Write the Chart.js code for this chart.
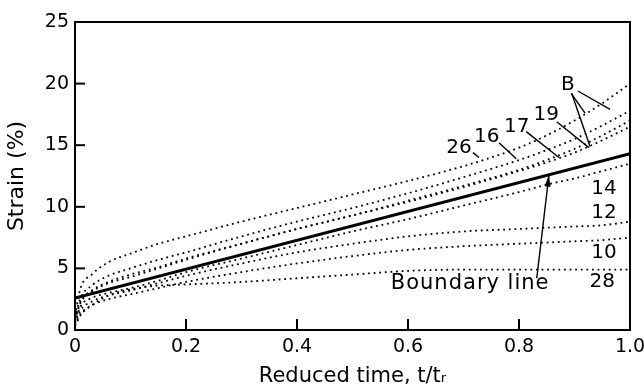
<!DOCTYPE html>
<html>
<head>
<meta charset="utf-8">
<script src="https://cdn.jsdelivr.net/npm/chart.js@4"></script>
<style>
  html, body { margin: 0; padding: 0; background: #fff; }
  #wrap { width: 644px; height: 389px; }
</style>
</head>
<body>
<div id="wrap"><canvas id="creep"></canvas></div>
<script>
// reduced time t/tr sample points (shared by all creep curves)
const tVals = [0, 0.01, 0.03, 0.06, 0.1, 0.15, 0.2, 0.3, 0.4, 0.5, 0.6, 0.7, 0.8, 0.85, 0.9, 0.95, 1.0];

// strain (%) for each specimen
const strain26 = [1.2, 3.4, 4.5, 5.5, 6.2, 7.0, 7.6, 8.8, 9.9, 11.0, 12.1, 13.3, 14.8, 15.8, 17.0, 18.4, 20.0];
const strain16 = [1.0, 2.6, 3.6, 4.4, 5.0, 5.7, 6.3, 7.6, 8.8, 9.9, 11.1, 12.4, 13.8, 14.6, 15.5, 16.6, 17.8];
const strain17 = [0.8, 2.2, 3.1, 3.8, 4.3, 5.0, 5.7, 7.0, 8.2, 9.3, 10.5, 11.7, 13.0, 13.8, 14.7, 15.8, 17.0];
const strain19 = [0.9, 2.3, 3.2, 3.9, 4.5, 5.1, 5.8, 7.0, 8.2, 9.3, 10.4, 11.6, 12.9, 13.6, 14.4, 15.4, 16.5];
const strain14 = [0.6, 1.9, 2.6, 3.0, 3.4, 4.0, 4.7, 5.8, 6.9, 8.0, 9.0, 10.1, 11.2, 11.8, 12.3, 12.9, 13.5];
const strain12 = [0.5, 1.6, 2.3, 2.8, 3.2, 3.8, 4.4, 5.4, 6.3, 7.0, 7.6, 8.0, 8.2, 8.3, 8.4, 8.5, 8.8];
const strain10 = [0.4, 1.3, 2.0, 2.5, 2.9, 3.4, 3.9, 4.7, 5.4, 6.0, 6.5, 6.8, 7.0, 7.1, 7.2, 7.3, 7.5];
const strain28 = [0.3, 1.2, 2.0, 2.8, 3.3, 3.6, 3.7, 3.9, 4.2, 4.5, 4.8, 4.9, 4.9, 4.9, 4.9, 4.9, 4.9];

// boundary line end points
const boundaryT = [0, 1.0];
const boundaryStrain = [2.6, 14.3];

const xTicks = [0, 0.2, 0.4, 0.6, 0.8, 1.0];
const yTicks = [0, 5, 10, 15, 20, 25];

const FONT = 'DejaVu Sans';

function pts(xs, ys) {
    return xs.map((x, i) => ({ x: x, y: ys[i] }));
}

function dotted(label, ys) {
    return {
        label: label,
        data: pts(tVals, ys),
        borderColor: '#000',
        borderWidth: 1.8,
        borderDash: [1.8, 3.8],
        pointRadius: 0,
        cubicInterpolationMode: 'monotone',
        fill: false
    };
}

// text notes and leader lines, placed in data coordinates
const notes = [
    { text: '26', x: 0.692, y: 14.8 },
    { text: '16', x: 0.742, y: 15.7 },
    { text: '17', x: 0.796, y: 16.5 },
    { text: '19', x: 0.849, y: 17.5 },
    { text: 'B', x: 0.888, y: 19.9 },
    { text: '14', x: 0.953, y: 11.5 },
    { text: '12', x: 0.953, y: 9.5 },
    { text: '10', x: 0.953, y: 6.3 },
    { text: '28', x: 0.950, y: 3.9 },
    { text: 'Boundary line', x: 0.712, y: 3.8, wide: true }
];
const leaders = [
    [0.717, 14.4, 0.728, 14.0],
    [0.764, 15.2, 0.795, 13.9],
    [0.813, 16.1, 0.872, 14.0],
    [0.868, 16.9, 0.926, 14.8],
    [0.906, 19.4, 0.964, 17.9],
    [0.894, 19.2, 0.919, 17.6],
    [0.895, 19.2, 0.928, 14.9]
];
const arrow = [0.832, 4.2, 0.854, 12.6];

const extras = {
    id: 'extras',
    afterDraw(chart) {
        const { ctx, chartArea: a, scales: { x, y } } = chart;
        ctx.save();
        ctx.strokeStyle = '#000';
        ctx.fillStyle = '#000';
        ctx.lineWidth = 2;
        ctx.strokeRect(a.left, a.top, a.right - a.left, a.bottom - a.top);

        // inward tick marks
        yTicks.forEach(v => {
            if (v <= 0 || v >= 25) return;
            const py = y.getPixelForValue(v);
            ctx.beginPath();
            ctx.moveTo(a.left, py);
            ctx.lineTo(a.left + 10, py);
            ctx.stroke();
        });
        xTicks.forEach(v => {
            if (v <= 0 || v >= 1) return;
            const px = x.getPixelForValue(v);
            ctx.beginPath();
            ctx.moveTo(px, a.bottom);
            ctx.lineTo(px, a.bottom - 11);
            ctx.stroke();
        });

        ctx.lineWidth = 1.4;
        leaders.forEach(l => {
            ctx.beginPath();
            ctx.moveTo(x.getPixelForValue(l[0]), y.getPixelForValue(l[1]));
            ctx.lineTo(x.getPixelForValue(l[2]), y.getPixelForValue(l[3]));
            ctx.stroke();
        });

        // arrow to the boundary line
        const x1 = x.getPixelForValue(arrow[0]), y1 = y.getPixelForValue(arrow[1]);
        const x2 = x.getPixelForValue(arrow[2]), y2 = y.getPixelForValue(arrow[3]);
        ctx.beginPath();
        ctx.moveTo(x1, y1);
        ctx.lineTo(x2, y2);
        ctx.stroke();
        const ang = Math.atan2(y2 - y1, x2 - x1);
        ctx.beginPath();
        ctx.moveTo(x2, y2);
        ctx.lineTo(x2 - 12 * Math.cos(ang) + 3 * Math.sin(ang), y2 - 12 * Math.sin(ang) - 3 * Math.cos(ang));
        ctx.lineTo(x2 - 12 * Math.cos(ang) - 3 * Math.sin(ang), y2 - 12 * Math.sin(ang) + 3 * Math.cos(ang));
        ctx.closePath();
        ctx.fill();

        ctx.textAlign = 'center';
        ctx.textBaseline = 'middle';
        notes.forEach(n => {
            ctx.font = (n.wide ? '21px' : '20px') + ' "' + FONT + '"';
            ctx.letterSpacing = n.wide ? '1px' : '0px';
            ctx.fillText(n.text, x.getPixelForValue(n.x), y.getPixelForValue(n.y));
        });
        ctx.restore();
    }
};

new Chart(document.getElementById('creep'), {
    type: 'line',
    data: {
        datasets: [
            dotted('26', strain26),
            dotted('16', strain16),
            dotted('17', strain17),
            dotted('19', strain19),
            dotted('14', strain14),
            dotted('12', strain12),
            dotted('10', strain10),
            dotted('28', strain28),
            {
                label: 'Boundary line',
                data: pts(boundaryT, boundaryStrain),
                borderColor: '#000',
                borderWidth: 3,
                pointRadius: 0,
                fill: false
            }
        ]
    },
    options: {
        responsive: true,
        maintainAspectRatio: false,
        animation: false,
        events: [],
        layout: { padding: { left: 0, top: 22, right: 14, bottom: 0 } },
        plugins: {
            legend: { display: false },
            tooltip: { enabled: false }
        },
        scales: {
            x: {
                type: 'linear',
                min: 0,
                max: 1,
                afterFit: s => { s.height = 59; s.paddingLeft = 0; s.paddingRight = 0; },
                afterBuildTicks: s => { s.ticks = xTicks.map(v => ({ value: v })); },
                grid: { display: false, drawTicks: false },
                border: { display: true, color: '#000', width: 2 },
                ticks: {
                    color: '#000',
                    padding: 6,
                    maxRotation: 0,
                    font: { family: FONT, size: 19 },
                    callback: v => (v === 0 ? '0' : v.toFixed(1))
                },
                title: {
                    display: true,
                    text: 'Reduced time, t/tᵣ',
                    color: '#000',
                    padding: { top: 0, bottom: 0 },
                    font: { family: FONT, size: 21 }
                }
            },
            y: {
                min: 0,
                max: 25,
                afterFit: s => { s.width = 75; s.paddingTop = 0; s.paddingBottom = 0; },
                afterBuildTicks: s => { s.ticks = yTicks.map(v => ({ value: v })); },
                grid: { display: false, drawTicks: false },
                border: { display: true, color: '#000', width: 2 },
                ticks: {
                    color: '#000',
                    padding: 6,
                    font: { family: FONT, size: 19 }
                },
                title: {
                    display: true,
                    text: 'Strain (%)',
                    color: '#000',
                    padding: { top: 4, bottom: 0 },
                    font: { family: FONT, size: 22 }
                }
            }
        }
    },
    plugins: [extras]
});
</script>
</body>
</html>
